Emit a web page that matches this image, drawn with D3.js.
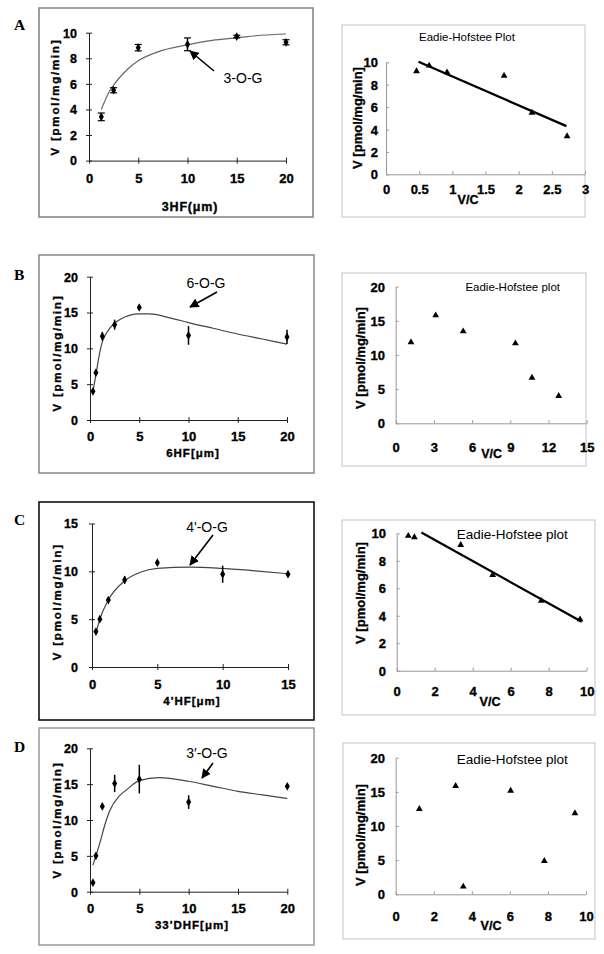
<!DOCTYPE html>
<html><head><meta charset="utf-8">
<script src="https://cdn.jsdelivr.net/npm/d3@7"></script>
<style>body{margin:0;background:#fff}svg{display:block}</style>
</head><body>
<svg id="c" width="604" height="954"></svg>
<script>
// ---------- Panel A (3HF) ----------
const concA = [1.25, 2.5, 5, 10, 15, 20];
const velA  = [3.42, 5.5, 8.83, 9.09, 9.7, 9.25];
const errA  = [0.3, 0.2, 0.25, 0.5, 0.1, 0.2];
const fitA_x = [1.25, 2, 2.5, 3, 4, 5, 7, 10, 12.5, 15, 17.5, 20];
const fitA_y = [4.0, 5.3, 5.9, 6.4, 7.2, 7.8, 8.5, 9.05, 9.4, 9.6, 9.8, 9.9];
const ehA_vc = [0.46, 0.65, 0.92, 1.78, 2.2, 2.73];
const ehA_v  = [9.2, 9.7, 9.1, 8.8, 5.5, 3.4];
const ehLineA_vc = [0.49, 2.72];
const ehLineA_v  = [10.05, 4.3];

// ---------- Panel B (6HF) ----------
const concB = [0.3, 0.6, 1.25, 2.5, 5, 10, 20];
const velB  = [4.0, 6.6, 11.7, 13.3, 15.7, 11.8, 11.6];
const errB  = [0.2, 0.3, 0.6, 0.7, 0.3, 1.3, 1.0];
const fitB_x = [0.3, 0.6, 1, 1.25, 1.5, 2, 2.5, 3, 4, 5, 6, 8, 10, 12.5, 15, 17.5, 20];
const fitB_y = [4.0, 6.3, 9.5, 10.9, 11.7, 12.8, 13.5, 14.0, 14.6, 14.8, 14.8, 14.3, 13.6, 12.8, 12.0, 11.3, 10.6];
const ehB_vc = [1.2, 3.14, 5.3, 9.4, 10.7, 12.8];
const ehB_v  = [11.86, 15.8, 13.47, 11.7, 6.68, 4.0];

// ---------- Panel C (4'HF) ----------
const concC = [0.3, 0.6, 1.25, 2.5, 5, 10, 15];
const velC  = [3.7, 5.0, 7.0, 9.1, 10.9, 9.7, 9.7];
const errC  = [0.2, 0.2, 0.2, 0.4, 0.1, 0.9, 0.1];
const fitC_x = [0.3, 0.6, 1.25, 2.5, 3.7, 5, 7.5, 10, 12.5, 15];
const fitC_y = [3.5, 5.0, 7.0, 9.0, 9.9, 10.3, 10.45, 10.3, 10.05, 9.75];
const ehC_vc = [0.61, 0.93, 3.37, 5.05, 7.61, 9.65];
const ehC_v  = [9.81, 9.71, 9.15, 6.97, 5.08, 3.74];
const ehLineC_vc = [1.3, 9.74];
const ehLineC_v  = [10.05, 3.57];

// ---------- Panel D (33'DHF) ----------
const concD = [0.3, 0.6, 1.25, 2.5, 5, 10, 20];
const velD  = [1.25, 5.0, 11.9, 15.1, 15.7, 12.5, 14.7];
const errD  = [0.1, 0.3, 0.4, 1.2, 2.0, 0.95, 0.2];
const fitD_x = [0.3, 0.6, 1, 1.5, 2, 3, 3.7, 5, 7, 10, 12.5, 15, 17.5, 20];
const fitD_y = [3.7, 5.0, 6.8, 9.3, 11.3, 13.4, 14.2, 15.5, 15.9, 15.4, 14.7, 14.0, 13.5, 13.0];
const ehD_vc = [1.24, 3.15, 3.55, 6.04, 7.81, 9.42];
const ehD_v  = [12.5, 15.85, 1.12, 15.17, 4.88, 11.86];

// ---------- tick labels / texts ----------
const ticks20 = [0, 5, 10, 15, 20];
const ticks15 = [0, 5, 10, 15];
const ticks10by2 = [0, 2, 4, 6, 8, 10];
const ticksA_vc = [0, 0.5, 1, 1.5, 2, 2.5, 3];
const ticksB_vc = [0, 3, 6, 9, 12, 15];
const yTitle = "V [pmol/mg/min]";

const svg = d3.select('#c');
const F = 'Arial, "Liberation Sans", sans-serif';

const defs = svg.append('defs');
defs.append('marker').attr('id','ah').attr('viewBox','0 0 10 10').attr('refX',9).attr('refY',5)
  .attr('markerWidth',6).attr('markerHeight',6).attr('markerUnits','strokeWidth').attr('orient','auto')
  .append('path').attr('d','M0,0 L10,5 L0,10 z').attr('fill','#000');

function styleText(sel, size, weight){
  sel.attr('font-family',F).attr('font-size',size).attr('font-weight',weight).attr('fill','#000');
  if(weight==='bold') sel.attr('stroke','#000').attr('stroke-width',0.35);
  else sel.attr('stroke','none');
}

function leftPanel(o){
  const g = svg.append('g');
  g.append('rect').attr('x',o.box[0]).attr('y',o.box[1]).attr('width',o.box[2]-o.box[0]).attr('height',o.box[3]-o.box[1])
    .attr('fill','none').attr('stroke',o.boxColor).attr('stroke-width',o.boxW);
  g.append('text').text(o.letter).attr('x',14).attr('y',o.letterY).attr('dy','0.35em')
    .attr('font-family','"Times New Roman","Liberation Serif",serif').attr('font-size',15.5).attr('font-weight','bold');
  const x = d3.scaleLinear().domain(o.xdom).range(o.xr);
  const y = d3.scaleLinear().domain(o.ydom).range(o.yr);
  const ax = g.append('g').attr('transform',`translate(0,${o.yr[0]})`)
    .call(d3.axisBottom(x).tickValues(o.xticks).tickSize(3).tickSizeOuter(0).tickFormat(d3.format('')));
  ax.selectAll('.tick line').attr('y1',-3).attr('y2',3).attr('stroke','#222');
  ax.select('.domain').attr('stroke','#222');
  styleText(ax.selectAll('text').attr('y',o.xLabY-o.yr[0]).attr('dy','0.35em'), 13, 'bold');
  const ay = g.append('g').attr('transform',`translate(${o.xr[0]},0)`)
    .call(d3.axisLeft(y).tickValues(o.yticks).tickSize(3).tickSizeOuter(0).tickFormat(d3.format('')));
  ay.selectAll('.tick line').attr('x1',-3).attr('x2',3).attr('stroke','#222');
  ay.select('.domain').attr('stroke','#222');
  styleText(ay.selectAll('text').attr('x',o.yLabR-o.xr[0]).attr('dy','0.35em'), 12.5, 'bold');
  // titles
  styleText(g.append('text').text(o.xTitle).attr('x',o.xTitlePos[0]).attr('y',o.xTitlePos[1]).attr('dy','0.35em')
    .attr('text-anchor','middle').attr('letter-spacing',o.xTitleLS), o.xTitleSize, 'bold');
  styleText(g.append('text').text(yTitle).attr('transform',`translate(${o.yTitlePos[0]},${o.yTitlePos[1]}) rotate(-90)`)
    .attr('dy','0.35em').attr('text-anchor','middle').attr('letter-spacing',1.8), 11.5, 'bold');
  // fit curve
  g.append('path').datum(d3.zip(o.fx,o.fy))
    .attr('d',d3.line().x(d=>x(d[0])).y(d=>y(d[1])).curve(d3.curveMonotoneX))
    .attr('fill','none').attr('stroke',o.curveColor).attr('stroke-width',1.2);
  // error bars
  const pts = d3.zip(o.cx,o.cv,o.ce);
  g.selectAll('.eb').data(pts).enter().append('line')
    .attr('x1',d=>x(d[0])).attr('x2',d=>x(d[0])).attr('y1',d=>y(d[1]-d[2])).attr('y2',d=>y(d[1]+d[2]))
    .attr('stroke','#000').attr('stroke-width',1.5);
  if(o.caps){
    pts.forEach(d=>{
      [d[1]-d[2], d[1]+d[2]].forEach(v=>{
        g.append('line').attr('x1',x(d[0])-3.5).attr('x2',x(d[0])+3.5).attr('y1',y(v)).attr('y2',y(v))
          .attr('stroke','#000').attr('stroke-width',1.2);
      });
    });
  }
  g.selectAll('.pt').data(pts).enter().append('path')
    .attr('transform',d=>`translate(${x(d[0])},${y(d[1])})`)
    .attr('d',d3.symbol().type(d3.symbolDiamond).size(22)).attr('fill','#000');
  // annotation
  g.append('line').attr('x1',o.arrow[0]).attr('y1',o.arrow[1]).attr('x2',o.arrow[2]).attr('y2',o.arrow[3])
    .attr('stroke','#000').attr('stroke-width',1.6).attr('marker-end','url(#ah)');
  styleText(g.append('text').text(o.label).attr('x',o.labelPos[0]).attr('y',o.labelPos[1]).attr('dy','0.35em')
    .attr('text-anchor','middle'), 14, 'normal');
}

function rightPanel(o){
  const g = svg.append('g');
  g.append('rect').attr('x',o.box[0]).attr('y',o.box[1]).attr('width',o.box[2]-o.box[0]).attr('height',o.box[3]-o.box[1])
    .attr('fill','none').attr('stroke','#c4c4c4').attr('stroke-width',1);
  const x = d3.scaleLinear().domain(o.xdom).range(o.xr);
  const y = d3.scaleLinear().domain(o.ydom).range(o.yr);
  const ax = g.append('g').attr('transform',`translate(0,${o.yr[0]})`)
    .call(d3.axisBottom(x).tickValues(o.xticks).tickSize(-3).tickSizeOuter(0).tickFormat(d3.format('')));
  ax.selectAll('.tick line').attr('stroke','#999');
  ax.select('.domain').attr('stroke','#999');
  styleText(ax.selectAll('text').attr('y',o.xLabY-o.yr[0]).attr('dy','0.35em'), 13, 'bold');
  const ay = g.append('g').attr('transform',`translate(${o.xr[0]},0)`)
    .call(d3.axisLeft(y).tickValues(o.yticks).tickSize(-3).tickSizeOuter(0).tickFormat(d3.format('')));
  ay.selectAll('.tick line').attr('stroke','#999');
  ay.select('.domain').attr('stroke','#999');
  styleText(ay.selectAll('text').attr('x',o.yLabR-o.xr[0]).attr('dy','0.35em'), 13, 'bold');
  styleText(g.append('text').text('V/C').attr('x',o.vcPos[0]).attr('y',o.vcPos[1]).attr('dy','0.35em')
    .attr('text-anchor','middle'), 12.5, 'bold');
  styleText(g.append('text').text(yTitle).attr('transform',`translate(${o.yTitlePos[0]},${o.yTitlePos[1]}) rotate(-90)`)
    .attr('dy','0.35em').attr('text-anchor','middle'), 13, 'bold');
  styleText(g.append('text').text(o.title).attr('x',o.titlePos[0]).attr('y',o.titlePos[1]).attr('dy','0.35em')
    .attr('text-anchor','middle'), o.titleSize, 'normal');
  if(o.lx){
    const ld = d3.zip(o.lx,o.ly);
    g.append('path').datum(ld).attr('d',d3.line().x(d=>x(d[0])).y(d=>y(d[1])))
      .attr('stroke','#000').attr('stroke-width',2.3).attr('fill','none');
  }
  g.selectAll('.tri').data(d3.zip(o.px,o.py)).enter().append('path')
    .attr('transform',d=>`translate(${x(d[0])},${y(d[1])})`)
    .attr('d',d3.symbol().type(d3.symbolTriangle).size(20)).attr('fill','#000');
}

// ---- Left panels ----
leftPanel({letter:'A', letterY:25, box:[39,8,313,217], boxColor:'#808080', boxW:1.5,
  xdom:[0,20], xr:[89,286], ydom:[0,10], yr:[160.6,32.7], xticks:ticks20, yticks:ticks10by2,
  xLabY:178, yLabR:77, xTitle:'3HF(μm)', xTitlePos:[190,207], xTitleSize:12.5, xTitleLS:0.8, yTitlePos:[55,97],
  fx:fitA_x, fy:fitA_y, curveColor:'#666', cx:concA, cv:velA, ce:errA, caps:true,
  arrow:[214,71,190,51], label:'3-O-G', labelPos:[243,78]});

leftPanel({letter:'B', letterY:275, box:[39,255,314,473], boxColor:'#888', boxW:1.5,
  xdom:[0,20], xr:[90,287], ydom:[0,20], yr:[420,276.7], xticks:ticks20, yticks:ticks20,
  xLabY:436, yLabR:78, xTitle:'6HF[μm]', xTitlePos:[193,453], xTitleSize:11.5, xTitleLS:1, yTitlePos:[56.7,353],
  fx:fitB_x, fy:fitB_y, curveColor:'#444', cx:concB, cv:velB, ce:errB, caps:false,
  arrow:[217,292,190,307], label:'6-O-G', labelPos:[206,283]});

leftPanel({letter:'C', letterY:520, box:[39,502,314,720], boxColor:'#111', boxW:1.6,
  xdom:[0,15], xr:[92,288], ydom:[0,15], yr:[667,523.5], xticks:ticks15, yticks:ticks15,
  xLabY:684, yLabR:78, xTitle:"4'HF[μm]", xTitlePos:[192,701], xTitleSize:11.5, xTitleLS:1, yTitlePos:[56.7,601.7],
  fx:fitC_x, fy:fitC_y, curveColor:'#444', cx:concC, cv:velC, ce:errC, caps:false,
  arrow:[213,535,190,565], label:"4'-O-G", labelPos:[207,527]});

leftPanel({letter:'D', letterY:747, box:[39,728,314,945], boxColor:'#999', boxW:1.5,
  xdom:[0,20], xr:[90,287.3], ydom:[0,20], yr:[891.7,748.3], xticks:ticks20, yticks:ticks20,
  xLabY:908, yLabR:78, xTitle:"33'DHF[μm]", xTitlePos:[192,925], xTitleSize:11.5, xTitleLS:1, yTitlePos:[56.7,820],
  fx:fitD_x, fy:fitD_y, curveColor:'#444', cx:concD, cv:velD, ce:errD, caps:false,
  arrow:[213,763,202,778], label:"3′-O-G", labelPos:[207,753]});

// ---- Right panels ----
rightPanel({box:[342,25,585,217], xdom:[0,3], xr:[386,585], ydom:[0,10], yr:[174.3,62.3],
  xticks:ticksA_vc, yticks:ticks10by2, xLabY:189, yLabR:378, vcPos:[468,199.5], yTitlePos:[357,118],
  title:'Eadie-Hofstee Plot', titlePos:[467,37], titleSize:11.5,
  px:ehA_vc, py:ehA_v, lx:ehLineA_vc, ly:ehLineA_v});

rightPanel({box:[342,273,586,466], xdom:[0,15], xr:[395.7,586.7], ydom:[0,20], yr:[423.3,286.7],
  xticks:ticksB_vc, yticks:ticks20, xLabY:447, yLabR:385, vcPos:[491.7,454], yTitlePos:[360,358],
  title:'Eadie-Hofstee plot', titlePos:[512.7,287.3], titleSize:11.5,
  px:ehB_vc, py:ehB_v});

rightPanel({box:[342,520,595,715], xdom:[0,10], xr:[396.7,586.7], ydom:[0,10], yr:[670.7,533.3],
  xticks:ticks10by2, yticks:ticks10by2, xLabY:691.7, yLabR:386, vcPos:[490,701.7], yTitlePos:[360,593],
  title:'Eadie-Hofstee plot', titlePos:[512.3,534], titleSize:13.5,
  px:ehC_vc, py:ehC_v, lx:ehLineC_vc, ly:ehLineC_v});

rightPanel({box:[343,743,595,939], xdom:[0,10], xr:[395.7,586], ydom:[0,20], yr:[894.3,757.7],
  xticks:ticks10by2, yticks:ticks20, xLabY:916.7, yLabR:385, vcPos:[491,926], yTitlePos:[360,835],
  title:'Eadie-Hofstee plot', titlePos:[512.3,759.3], titleSize:13.5,
  px:ehD_vc, py:ehD_v});
</script>
</body></html>
